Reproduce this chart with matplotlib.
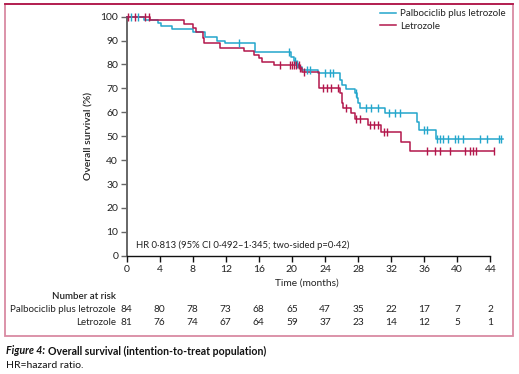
import matplotlib
matplotlib.use("Agg")
import matplotlib.pyplot as plt
from matplotlib.patches import Rectangle
from matplotlib.lines import Line2D
import matplotlib.transforms as mtransforms

plt.rcParams['font.family'] = ['Lato', 'DejaVu Sans']

# ---------------- data ----------------
series_names = ["Palbociclib plus letrozole", "Letrozole"]

palbo_t = [0, 2.1, 3.85, 4.2, 5.5, 8.1, 9.5, 10.9, 11.9, 15.5, 19.9, 20.3, 20.5, 20.8, 21.2,
           23.2, 25.8, 26.0, 26.6, 27.6, 27.9, 28.0, 28.2, 31.3, 35.1, 35.4, 37.4, 45.5]
palbo_s = [100, 98.8, 97.4, 96.3, 94.9, 93.7, 91.4, 90.0, 88.9, 85.1, 83.3, 81.6, 80.2, 79.1, 77.7,
           76.6, 73.5, 71.4, 69.6, 68.0, 65.9, 64.0, 61.7, 59.5, 56.1, 52.6, 48.9, 48.9]
palbo_cens = [0.6, 1.4, 13.6, 19.6, 20.4, 20.6, 21.8, 22.2, 24.0, 24.6, 25.0, 27.8, 29.0, 29.6,
              30.4, 31.7, 32.5, 33.1, 36.0, 36.3, 37.6, 37.9, 38.3, 38.9, 39.7, 40.1, 40.7,
              42.7, 43.6, 45.0, 45.3]

letro_t = [0, 2.9, 7.0, 8.1, 8.4, 9.2, 9.4, 11.3, 14.2, 15.4, 16.0, 16.4, 17.8, 20.9, 21.2,
           23.3, 25.8, 26.0, 26.2, 27.2, 27.6, 29.2, 30.8, 33.2, 34.3, 44.4]
letro_s = [100, 98.6, 97.0, 95.1, 93.7, 90.9, 89.2, 86.8, 85.6, 84.0, 82.6, 81.2, 79.6, 78.4, 77.0,
           70.0, 68.0, 63.8, 61.7, 59.6, 57.1, 54.7, 51.9, 47.4, 43.8, 43.8]
letro_cens = [0.15, 1.0, 2.2, 2.7, 18.6, 19.8, 20.0, 20.3, 20.5, 20.8, 21.0, 21.5, 23.8, 24.2,
              24.7, 25.6, 26.6, 27.8, 28.2, 29.4, 29.9, 30.4, 31.1, 31.5, 36.3, 37.3, 37.9,
              39.1, 40.9, 41.5, 41.9, 42.3, 44.4]

risk_times = [0, 4, 8, 12, 16, 20, 24, 28, 32, 36, 40, 44]
risk_palbo = [84, 80, 78, 73, 68, 65, 47, 35, 22, 17, 7, 2]
risk_letro = [81, 76, 74, 67, 64, 59, 37, 23, 14, 12, 5, 1]

x_ticks = [0, 4, 8, 12, 16, 20, 24, 28, 32, 36, 40, 44]
y_ticks = [0, 10, 20, 30, 40, 50, 60, 70, 80, 90, 100]

BLUE = "#23a6cc"
RED = "#b3174c"
TXT = "#222222"
FS = 7.0

W, H = 519, 374
fig = plt.figure(figsize=(W / 100, H / 100), dpi=100)

def fx(px):
    return px / W

def fy(py):
    return 1 - py / H

# border
fig.add_artist(Rectangle((fx(5), fy(336)), fx(513) - fx(5), fy(4) - fy(336),
                         transform=fig.transFigure, fill=False, edgecolor="#d98aa3", lw=1.3))
fig.add_artist(Line2D([fx(5), fx(513)], [fy(4), fy(4)], transform=fig.transFigure,
                      color="#b0174a", lw=1.3))

ax = fig.add_axes([fx(126.5), fy(255.7), 380.4 / W, 239 / H])
ax.set_xlim(0, 46)
ax.set_ylim(0, 100)

def surv_at(ts, ss, t):
    v = ss[0]
    for ti, si in zip(ts, ss):
        if ti <= t:
            v = si
    return v

ax.step(palbo_t, palbo_s, where="post", color=BLUE, lw=1.1, clip_on=False,
        label=series_names[0], zorder=3)
ax.step(letro_t, letro_s, where="post", color=RED, lw=1.1, clip_on=False,
        label=series_names[1], zorder=3)
ax.plot(palbo_cens, [surv_at(palbo_t, palbo_s, t) for t in palbo_cens], ls="none",
        marker="|", ms=6, mew=1.0, color=BLUE, clip_on=False, zorder=3)
ax.plot(letro_cens, [surv_at(letro_t, letro_s, t) for t in letro_cens], ls="none",
        marker="|", ms=6, mew=1.0, color=RED, clip_on=False, zorder=4)

for s in ["top", "right"]:
    ax.spines[s].set_visible(False)
ax.spines["left"].set_color("#666666")
ax.spines["left"].set_linewidth(1.4)
ax.spines["bottom"].set_color("#111111")
ax.spines["bottom"].set_linewidth(1.0)
ax.spines["bottom"].set_bounds(0, 44)

ax.set_xticks(x_ticks)
ax.set_yticks(y_ticks)
ax.tick_params(axis="y", length=4, width=1.0, color="#666666", pad=2, labelsize=7.5,
               labelcolor=TXT)
ax.tick_params(axis="x", length=4, width=1.0, color="#111111", pad=2.5, labelsize=7.5,
               labelcolor=TXT)

fig.text(fx(89), fy(136), "Overall survival (%)", rotation=90, ha="center", va="center",
         fontsize=7.5, color=TXT, fontweight="semibold")
fig.text(fx(307), fy(283), "Time (months)", ha="center", va="center", fontsize=7.3, color=TXT)
fig.text(fx(136.5), fy(245), "HR 0·813 (95% CI 0·492–1·345; two-sided p=0·42)",
         ha="left", va="center", fontsize=6.8, color=TXT)

leg = ax.legend(loc="upper left", bbox_to_anchor=(fx(380), fy(9.5)),
                bbox_transform=fig.transFigure, frameon=False, fontsize=FS,
                handlelength=1.6, handletextpad=0.5, labelspacing=0.35, borderpad=0,
                borderaxespad=0)
for t in leg.get_texts():
    t.set_color(TXT)

# number at risk
fig.text(fx(116), fy(296.5), "Number at risk", ha="right", va="center", fontsize=FS,
         color=TXT, fontweight="semibold")
fig.text(fx(116), fy(310), series_names[0], ha="right", va="center", fontsize=FS, color=TXT)
fig.text(fx(116), fy(322.5), series_names[1], ha="right", va="center", fontsize=FS, color=TXT)
blend = mtransforms.blended_transform_factory(ax.transData, fig.transFigure)
for t, a, b in zip(risk_times, risk_palbo, risk_letro):
    ax.text(t, fy(310), str(a), transform=blend, ha="center", va="center", fontsize=7.3,
            color=TXT, clip_on=False)
    ax.text(t, fy(322.5), str(b), transform=blend, ha="center", va="center", fontsize=7.3,
            color=TXT, clip_on=False)

# caption
t1 = fig.text(fx(6), fy(351), "Figure 4:", ha="left", va="center", fontsize=7.6,
              fontweight="bold", fontstyle="italic", color="#111111")
fig.canvas.draw()
bb = t1.get_window_extent()
fig.text(bb.x1 / W + fx(2.5), fy(351), "Overall survival (intention-to-treat population)",
         ha="left", va="center", fontsize=7.6, fontweight="bold", color="#111111")
fig.text(fx(6), fy(365.5), "HR=hazard ratio.", ha="left", va="center", fontsize=7.5,
         color="#111111")

fig.savefig("out.png", dpi=100)
